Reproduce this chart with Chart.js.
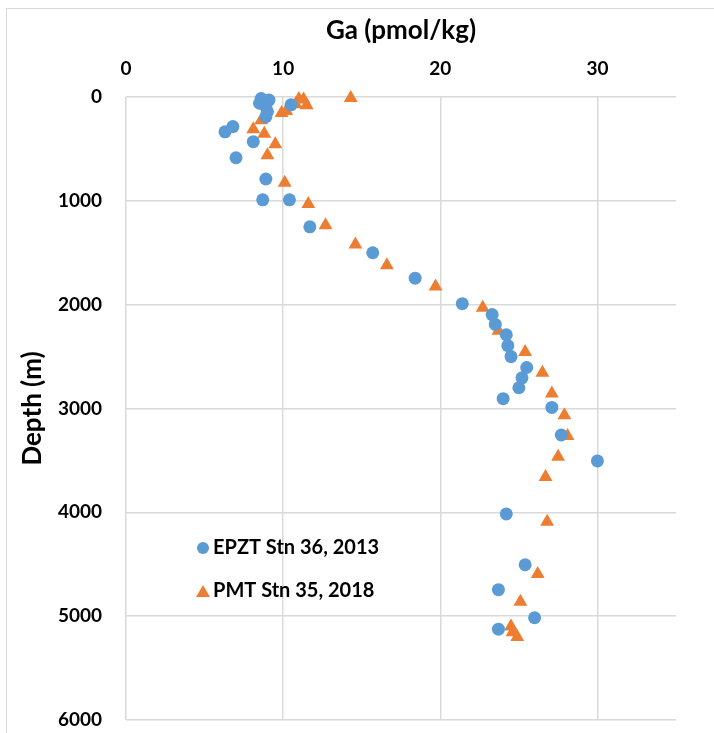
<!DOCTYPE html>
<html lang="en">
<head>
    <meta charset="UTF-8">
    <title>Ga depth profile</title>
    <script src="https://cdn.jsdelivr.net/npm/chart.js"></script>
    <style>
        body {
            margin: 0;
            background: white;
            font-family: Lato, Arial, sans-serif;
        }

        .frame {
            position: absolute;
            left: 6px;
            top: 8px;
            width: 720px;
            height: 740px;
            border-left: 1px solid #d9d9d9;
            border-top: 1px solid #d9d9d9;
        }

        .chart-box {
            position: absolute;
            left: 0;
            top: 0;
            width: 714px;
            height: 733px;
        }
    </style>
</head>
<body>
<div class="frame"></div>
<div class="chart-box">
    <canvas id="gaChart"></canvas>
</div>

<script>
    // EPZT Stn 36, 2013
    const epztGa = [8.6, 9.1, 8.5, 8.9, 9.0, 8.9, 10.5, 6.8, 6.3, 8.1, 7.0, 8.9, 8.7, 10.4, 11.7, 15.7, 18.4,
        21.4, 23.3, 23.5, 24.2, 24.3, 24.5, 25.5, 25.2, 25.0, 24.0, 27.1, 27.7, 30.0, 24.2, 25.4, 23.7, 26.0, 23.7];
    const epztDepth = [15, 30, 60, 95, 140, 190, 75, 285, 335, 430, 585, 790, 990, 990, 1250, 1500, 1745,
        1990, 2095, 2190, 2290, 2395, 2500, 2605, 2705, 2800, 2905, 2990, 3255, 3505, 4015, 4505, 4745, 5015, 5125];

    // PMT Stn 35, 2018
    const pmtGa = [14.3, 11.0, 11.3, 10.8, 11.5, 10.2, 9.9, 8.6, 8.1, 8.8, 9.5, 9.0, 10.1, 11.6, 12.7, 14.6,
        16.6, 19.7, 22.7, 23.7, 25.4, 26.5, 27.1, 27.9, 28.1, 27.5, 26.7, 26.8, 26.2, 25.1, 24.5, 24.6, 24.9];
    const pmtDepth = [10, 20, 25, 70, 80, 135, 155, 225, 310, 355, 455, 560, 825, 1030, 1235, 1420,
        1620, 1825, 2030, 2250, 2455, 2655, 2855, 3065, 3265, 3465, 3660, 4090, 4595, 4860, 5100, 5155, 5200];

    const seriesNames = ['EPZT Stn 36, 2013', 'PMT Stn 35, 2018'];
    const xTicks = [0, 10, 20, 30];
    const yTicks = [0, 1000, 2000, 3000, 4000, 5000, 6000];

    const blue = '#5b9bd5';
    const orange = '#ed7d31';
    const fontFamily = 'Lato, Arial, sans-serif';

    function toPoints(xs, ys) {
        return xs.map((x, i) => ({x: x, y: ys[i]}));
    }

    // legend drawn inside the plot area, bottom left
    const insideLegend = {
        id: 'insideLegend',
        afterDatasetsDraw(chart) {
            const ctx = chart.ctx;
            const items = [
                {style: 'circle', color: blue, r: 6, y: 548},
                {style: 'triangle', color: orange, r: 8, y: 591}
            ];
            ctx.save();
            ctx.font = 'bold 20px ' + fontFamily;
            ctx.textBaseline = 'middle';
            items.forEach((it, i) => {
                ctx.fillStyle = it.color;
                ctx.strokeStyle = it.color;
                Chart.helpers.drawPoint(ctx, {pointStyle: it.style, radius: it.r, borderWidth: 0}, 203, it.y + (it.style === 'triangle' ? 2 : 0));
                ctx.fillStyle = '#000';
                ctx.fillText(seriesNames[i], 213, it.y);
            });
            ctx.restore();
        }
    };

    const ctx = document.getElementById('gaChart').getContext('2d');
    new Chart(ctx, {
        type: 'scatter',
        data: {
            datasets: [{
                label: seriesNames[0],
                data: toPoints(epztGa, epztDepth),
                pointStyle: 'circle',
                pointRadius: 6.5,
                pointHoverRadius: 6.5,
                backgroundColor: blue,
                borderColor: blue,
                borderWidth: 0
            }, {
                label: seriesNames[1],
                data: toPoints(pmtGa, pmtDepth),
                pointStyle: 'triangle',
                pointRadius: 8,
                pointHoverRadius: 8,
                backgroundColor: orange,
                borderColor: orange,
                borderWidth: 0
            }]
        },
        options: {
            responsive: true,
            maintainAspectRatio: false,
            animation: false,
            clip: false,
            layout: {
                padding: {left: 17, top: 15, right: 38, bottom: 13}
            },
            plugins: {
                legend: {display: false},
                tooltip: {enabled: false}
            },
            scales: {
                x: {
                    type: 'linear',
                    position: 'top',
                    min: 0,
                    max: 35,
                    afterBuildTicks: scale => {
                        scale.ticks = xTicks.map(v => ({value: v}));
                    },
                    afterFit: scale => {
                        scale.height = 82;
                    },
                    grid: {color: '#d9d9d9', lineWidth: 1.5, drawTicks: false},
                    border: {display: false},
                    ticks: {
                        color: '#000',
                        padding: 17,
                        font: {family: fontFamily, size: 19, weight: 'bold'}
                    },
                    title: {
                        display: true,
                        text: 'Ga (pmol/kg)',
                        color: '#000',
                        padding: {top: 0, bottom: 0},
                        font: {family: fontFamily, size: 26, weight: 'bold'}
                    }
                },
                y: {
                    type: 'linear',
                    reverse: true,
                    min: 0,
                    max: 6000,
                    afterBuildTicks: scale => {
                        scale.ticks = yTicks.map(v => ({value: v}));
                    },
                    afterFit: scale => {
                        scale.width = 109;
                        scale.paddingTop = 0;
                        scale.paddingBottom = 0;
                    },
                    grid: {color: '#d9d9d9', lineWidth: 1.5, drawTicks: false},
                    border: {display: false},
                    ticks: {
                        color: '#000',
                        padding: 24,
                        callback: v => String(v),
                        font: {family: fontFamily, size: 19, weight: 'bold'}
                    },
                    title: {
                        display: true,
                        text: 'Depth (m)',
                        color: '#000',
                        padding: {top: 0, bottom: 0},
                        font: {family: fontFamily, size: 26, weight: 'bold'}
                    }
                }
            }
        },
        plugins: [insideLegend]
    });
</script>
</body>
</html>
